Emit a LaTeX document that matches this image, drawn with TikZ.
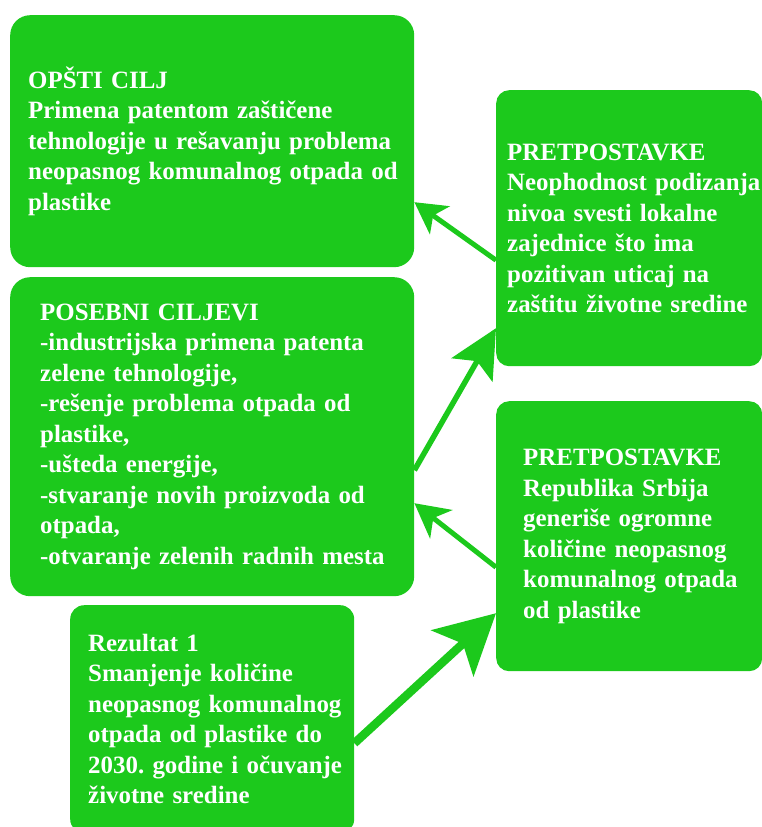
\documentclass[tikz,border=0pt]{standalone}
\usepackage{fontspec}
\setmainfont{Liberation Serif}
\usetikzlibrary{arrows.meta, calc, positioning}
\definecolor{leaf}{RGB}{28,201,28}
\frenchspacing

\begin{document}
\begin{tikzpicture}[x=1pt, y=-1pt,
  box/.style={fill=leaf, text=white, anchor=north west, align=left,
    inner xsep=0pt, inner ysep=0pt,
    font=\bfseries\fontsize{24.9}{30.5}\selectfont},
  textpad/.style={execute at begin node={\leftskip=#1}},
  link/.style={draw=leaf, line width=#1}]
\useasboundingbox (0,0) rectangle (761,827);

% Left column: goals and result
\node[box, rounded corners=20pt, text width=404pt, minimum height=252pt, textpad=18pt] (goal) at (10,15)
  {OPŠTI CILJ\\ Primena patentom zaštičene\\ tehnologije u rešavanju problema\\ neopasnog komunalnog otpada od\\ plastike};
\node[box, rounded corners=20pt, text width=404pt, minimum height=319pt, textpad=30pt] (spec) at (10,277)
  {POSEBNI CILJEVI\\ -industrijska primena patenta\\ zelene tehnologije,\\ -rešenje problema otpada od\\ plastike,\\ -ušteda energije,\\ -stvaranje novih proizvoda od\\ otpada,\\ -otvaranje zelenih radnih mesta};
\node[box, rounded corners=14pt, text width=284pt, minimum height=228pt, textpad=18pt] (res) at (70,605)
  {Rezultat 1\\ Smanjenje količine\\ neopasnog komunalnog\\ otpada od plastike do\\ 2030. godine i očuvanje\\ životne sredine};

% Right column: assumptions
\node[box, rounded corners=13pt, text width=266pt, minimum height=276pt, textpad=11pt] (pre1) at (496,90)
  {PRETPOSTAVKE\\ Neophodnost~podizanja\\ nivoa svesti lokalne\\ zajednice što ima\\ pozitivan uticaj na\\ zaštitu životne sredine};
\node[box, rounded corners=13pt, text width=266pt, minimum height=270pt, textpad=27pt] (pre2) at (496,401)
  {PRETPOSTAVKE\\ Republika Srbija\\ generiše ogromne\\ količine neopasnog\\ komunalnog otpada\\ od plastike};

% Arrows
\draw[link=5pt, -{Stealth[length=31pt, width=34pt, inset=8pt]}] ([yshift=-32pt]pre1.west) -- ([yshift=-61pt]goal.east);
\draw[link=5.5pt, -{Stealth[length=48pt, width=47pt, inset=10pt]}] ([yshift=-33.5pt]spec.east) -- ([yshift=-100pt]pre1.west);
\draw[link=5pt, -{Stealth[length=34pt, width=36pt, inset=10pt]}] ([yshift=-31pt]pre2.west) -- ([yshift=-66.5pt]spec.east);
\draw[link=8.5pt, -{Stealth[length=59pt, width=62pt, inset=14pt]}] ([yshift=-24pt]res.east) -- ([yshift=-77pt]pre2.west);
\end{tikzpicture}
\end{document}
